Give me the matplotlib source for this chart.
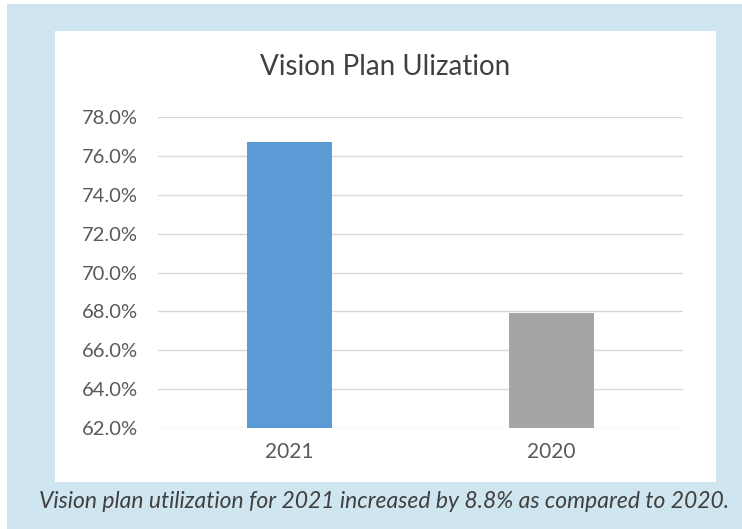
import matplotlib
matplotlib.use("Agg")
import matplotlib.pyplot as plt
from matplotlib.patches import Rectangle
from matplotlib.ticker import FuncFormatter

categories = ["2021", "2020"]
values = [76.7, 67.9]
bar_colors = ["#5B9BD5", "#A5A5A5"]
yticks = [62, 64, 66, 68, 70, 72, 74, 76, 78]
title = "Vision Plan Ulization"
caption = "Vision plan utilization for 2021 increased by 8.8% as compared to 2020."

plt.rcParams['font.family'] = ['Lato', 'DejaVu Sans']

W, H = 742, 529
fig = plt.figure(figsize=(W / 100, H / 100), dpi=100)
fig.patch.set_facecolor("white")

def fx(x):
    return x / W

def fy(y):
    return 1 - y / H

# outer light-blue background
fig.patches.append(Rectangle((fx(7), 0), 1 - fx(7), fy(4), transform=fig.transFigure,
                             facecolor="#CFE6F1", edgecolor="none", zorder=-2))
# white chart panel
fig.patches.append(Rectangle((fx(55), fy(482)), fx(716) - fx(55), fy(31) - fy(482),
                             transform=fig.transFigure, facecolor="white",
                             edgecolor="none", zorder=-1))

ax = fig.add_axes([fx(158), fy(428), fx(683) - fx(158), fy(117) - fy(428)])
ax.set_zorder(2)
ax.set_facecolor("none")
x = list(range(len(categories)))
ax.bar(x, values, width=0.325, color=bar_colors, zorder=3)
ax.set_xlim(-0.5, len(categories) - 0.5)
ax.set_ylim(62, 78)
ax.set_yticks(yticks)
ax.yaxis.set_major_formatter(FuncFormatter(lambda v, p: f"{v:.1f}%"))
ax.set_xticks(x)
ax.set_xticklabels(categories)
ax.grid(axis="y", color="#D9D9D9", linewidth=1.0, zorder=0)
ax.set_axisbelow(True)
for s in ax.spines.values():
    s.set_visible(False)
ax.tick_params(axis="both", length=0, colors="#595959")
ax.tick_params(axis="y", pad=14.5, labelsize=14.5)
ax.tick_params(axis="x", pad=10, labelsize=15)

fig.text(fx(385), fy(67), title, ha="center", va="center", fontsize=20,
         color="#404040", zorder=5)
fig.text(fx(384), fy(502), caption, ha="center", va="center", fontsize=16.5,
         style="italic", color="#404040", zorder=5)

fig.savefig("out.png", dpi=100)
